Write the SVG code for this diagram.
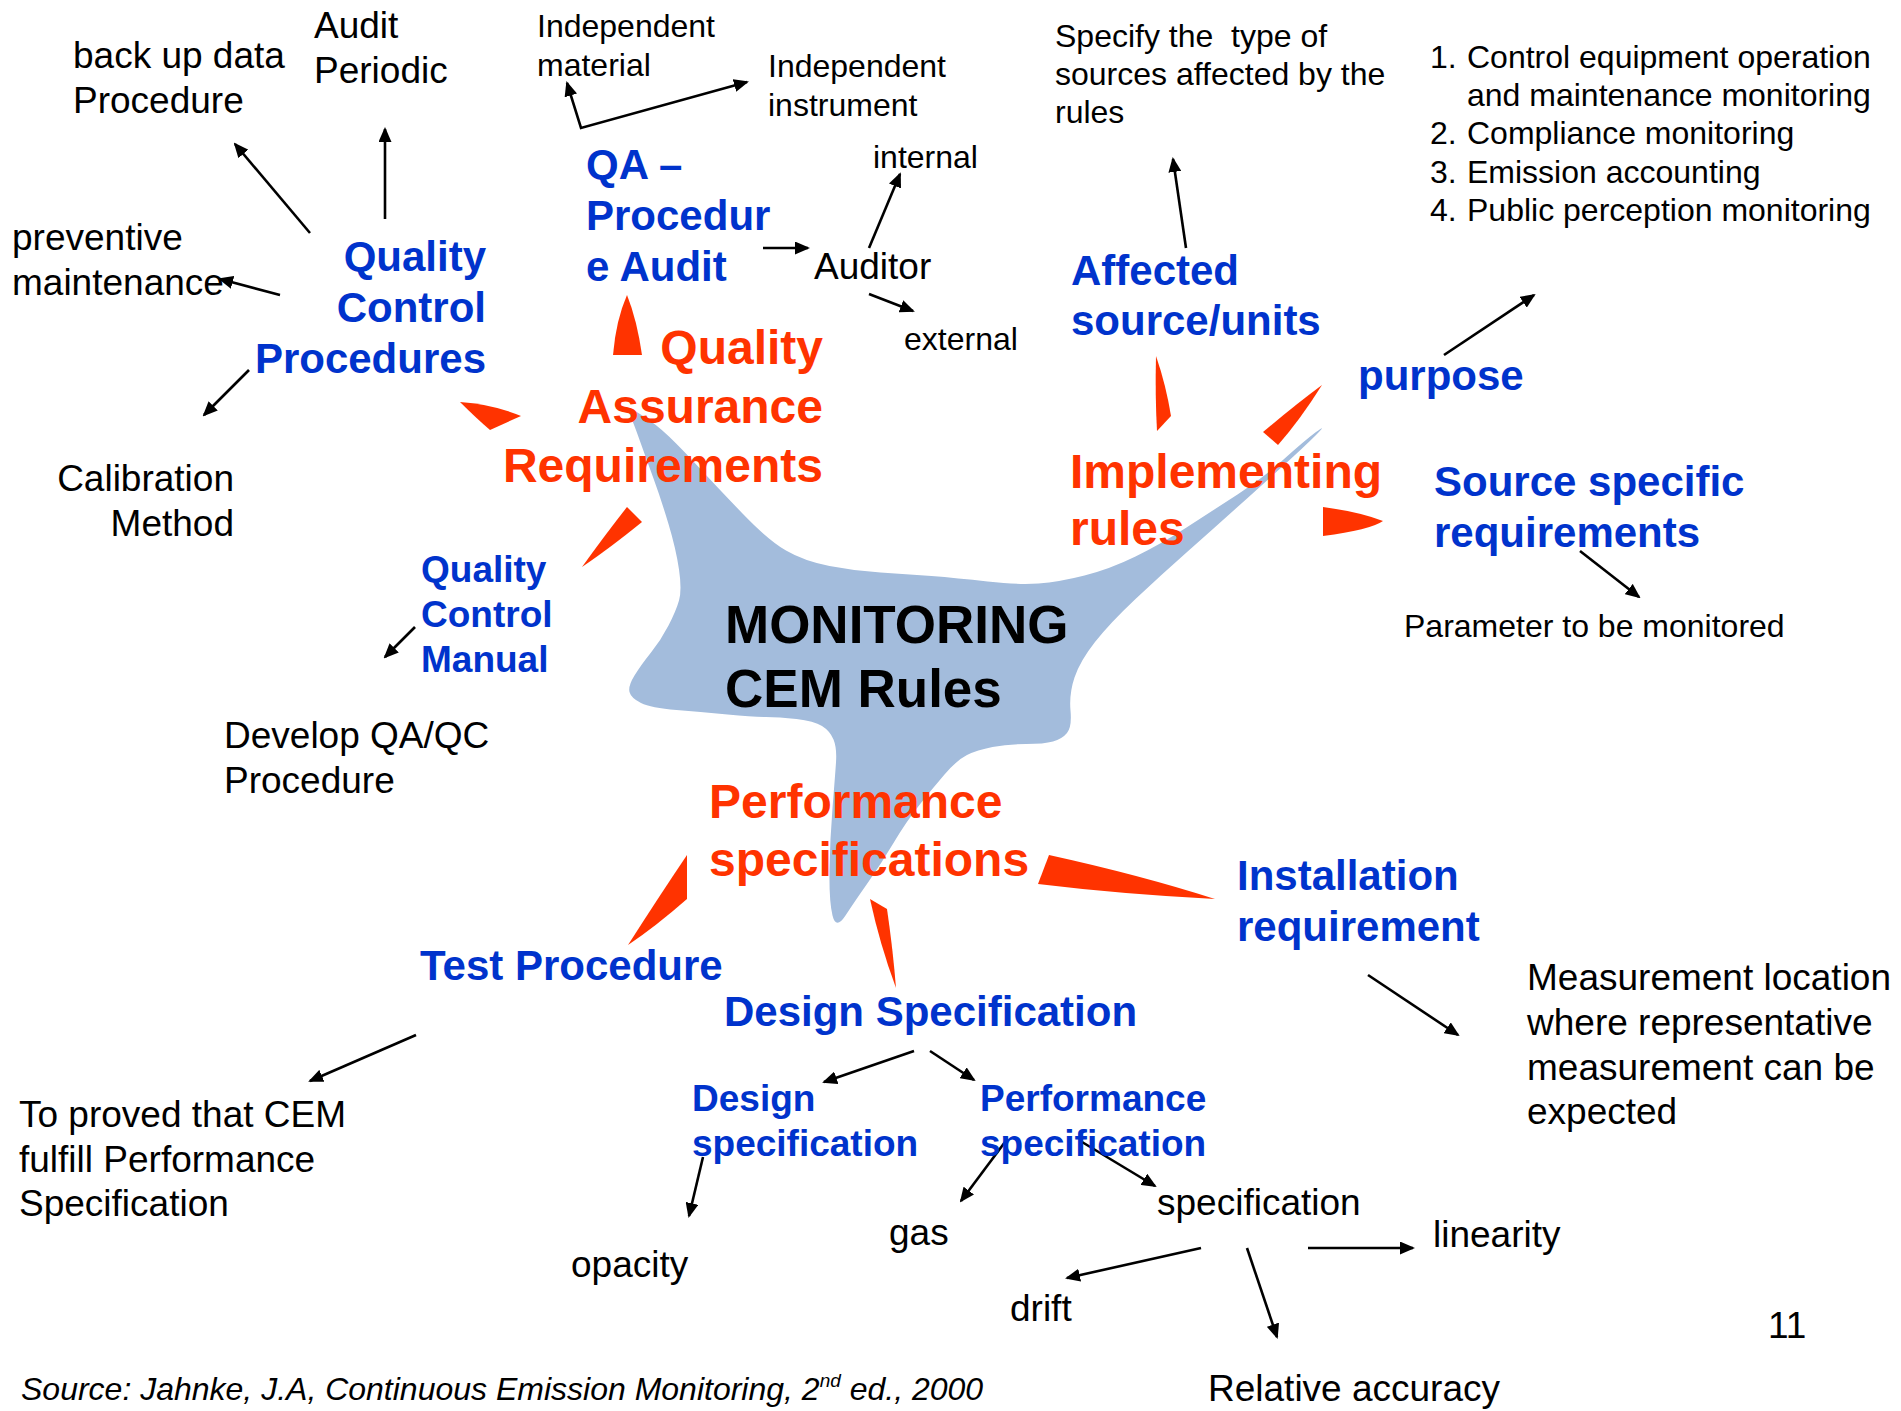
<svg xmlns="http://www.w3.org/2000/svg" width="1901" height="1411" viewBox="0 0 1901 1411">
<style>
text{font-family:"Liberation Sans",Arial,sans-serif;}
.k{font-size:37px;fill:#000;}
.ks{font-size:32px;fill:#000;}
.b{font-size:42px;font-weight:bold;fill:#0033CC;}
.bs{font-size:37px;font-weight:bold;fill:#0033CC;}
.o{font-size:48px;font-weight:bold;fill:#FF3300;}
.c{font-size:53px;font-weight:bold;fill:#000;}
.src{font-size:32px;font-style:italic;fill:#000;}
.end{text-anchor:end;}
.ln{fill:none;stroke:#000;stroke-width:2.6;marker-end:url(#ah);}
.sp{fill:#FF3300;stroke:none;}
</style>
<defs>
<marker id="ah" viewBox="0 0 15 13" refX="13" refY="6.5" markerWidth="15" markerHeight="13" orient="auto-start-reverse" markerUnits="userSpaceOnUse"><path d="M0,0 L15,6.5 L0,13 Z" fill="#000"/></marker>
</defs>
<rect width="1901" height="1411" fill="#fff"/>

<g id="center">
<path fill="#A3BCDC" d="M627.5,410 Q624,404 640,414 Q656,424 669,436.5 Q682,449 699.5,468 Q717,487 742.5,513.5 Q768,540 786,550.5 Q804,561 829.5,566 Q855,571 880.5,572.5 Q906,574 931.5,576 Q957,578 987.5,581.5 Q1018,585 1038.5,583.5 Q1059,582 1084.5,575.5 Q1110,569 1135.5,556.5 Q1161,544 1186.5,527.5 Q1212,511 1237.5,494.5 Q1263,478 1283.5,459.5 Q1304,441 1316,432 Q1328,423 1316,435 Q1304,447 1283.5,465.5 Q1263,484 1237.5,507 Q1212,530 1186.5,552.5 Q1161,575 1135.5,599 Q1110,623 1095,642 Q1080,661 1074.5,677.5 Q1069,694 1070.5,710.5 Q1072,727 1067,733 Q1062,739 1053,741.5 Q1044,744 1026,744 Q1008,744 992.5,747 Q977,750 967,755 Q957,760 944.5,774.5 Q932,789 919,805.5 Q906,822 893.5,843 Q881,864 868,882.5 Q855,901 845.5,915.5 Q836,930 832.5,915.5 Q829,901 829.5,870 Q830,839 832.5,808 Q835,777 836,762.5 Q837,748 833.5,739.5 Q830,731 822,726 Q814,721 796.5,719 Q779,717 766,717 Q753,717 727.5,714.5 Q702,712 676.5,710 Q651,708 641,703 Q631,698 629.5,692 Q628,686 634.5,675.5 Q641,665 651,652.5 Q661,640 668.5,625.5 Q676,611 679,600.5 Q682,590 679,569.5 Q676,549 668.5,524 Q661,499 653.5,478.5 Q646,458 638.5,437 Q631,416 627.5,410 Z"/>
<text class="c" x="725" y="643">MONITORING</text>
<text class="c" x="725" y="707">CEM Rules</text>
</g>

<g id="connectors">
<path class="sp" d="M460,402 Q492,404 521,416 L490,430 Q476,418 460,402 Z"/>
<path class="sp" d="M627,295 Q637,320 642,355 L613,355 Q616,320 627,295 Z"/>
<path class="sp" d="M1156,356 Q1166,385 1171,416 L1157,431 Q1155,395 1156,356 Z"/>
<path class="sp" d="M1322,385 Q1300,420 1278,445 L1263,432 Q1295,405 1322,385 Z"/>
<path class="sp" d="M1323,507 Q1360,512 1383,521 Q1370,530 1323,536 Z"/>
<path class="sp" d="M627,507 L642,522 Q610,548 582,567 Q605,535 627,507 Z"/>
<path class="sp" d="M687,855 L687,899 Q655,927 628,945 Q660,895 687,855 Z"/>
<path class="sp" d="M870,899 L887,909 Q893,950 896,988 Q880,945 870,899 Z"/>
<path class="sp" d="M1049,855 Q1140,875 1215,899 Q1120,894 1038,884 Z"/>

<line class="ln" x1="310" y1="233" x2="235" y2="144"/>
<line class="ln" x1="385" y1="219" x2="385" y2="129"/>
<line class="ln" x1="280" y1="295" x2="220" y2="279"/>
<line class="ln" x1="249" y1="370" x2="204" y2="415"/>
<polyline class="ln" points="567,83 581,128 747,82" style="marker-start:url(#ah)"/>
<line class="ln" x1="763" y1="248" x2="808" y2="248"/>
<line class="ln" x1="869" y1="248" x2="900" y2="174"/>
<line class="ln" x1="869" y1="294" x2="913" y2="311"/>
<line class="ln" x1="1186" y1="248" x2="1173" y2="159"/>
<line class="ln" x1="1444" y1="355" x2="1534" y2="295"/>
<line class="ln" x1="1580" y1="551" x2="1639" y2="597"/>
<line class="ln" x1="415" y1="627" x2="385" y2="657"/>
<line class="ln" x1="416" y1="1035" x2="310" y2="1081"/>
<line class="ln" x1="1368" y1="975" x2="1458" y2="1035"/>
<line class="ln" x1="914" y1="1051" x2="824" y2="1082"/>
<line class="ln" x1="930" y1="1051" x2="974" y2="1080"/>
<line class="ln" x1="703" y1="1157" x2="689" y2="1216"/>
<line class="ln" x1="1005" y1="1142" x2="961" y2="1201"/>
<line class="ln" x1="1082" y1="1142" x2="1155" y2="1186"/>
<line class="ln" x1="1201" y1="1248" x2="1067" y2="1278"/>
<line class="ln" x1="1247" y1="1248" x2="1277" y2="1337"/>
<line class="ln" x1="1308" y1="1248" x2="1413" y2="1248"/>
</g>

<g id="qa-requirements"><text class="o end" x="823" y="364">Quality</text><text class="o end" x="823" y="423">Assurance</text><text class="o end" x="823" y="482">Requirements</text></g>
<g id="implementing-rules"><text class="o" x="1070" y="488">Implementing</text><text class="o" x="1070" y="545">rules</text></g>
<g id="performance-specifications"><text class="o" x="709" y="818">Performance</text><text class="o" x="709" y="876">specifications</text></g>

<g id="qc-procedures"><text class="b end" x="486" y="271">Quality</text><text class="b end" x="486" y="322">Control</text><text class="b end" x="486" y="373">Procedures</text></g>
<g id="back-up-data"><text class="k" x="73" y="68">back up data</text><text class="k" x="73" y="113">Procedure</text></g>
<g id="audit-periodic"><text class="k" x="314" y="38">Audit</text><text class="k" x="314" y="83">Periodic</text></g>
<g id="preventive-maintenance"><text class="k" x="12" y="250">preventive</text><text class="k" x="12" y="295">maintenance</text></g>
<g id="calibration-method"><text class="k end" x="234" y="491">Calibration</text><text class="k end" x="234" y="536">Method</text></g>

<g id="qa-procedure-audit"><text class="b" x="586" y="179">QA –</text><text class="b" x="586" y="230">Procedur</text><text class="b" x="586" y="281">e Audit</text></g>
<g id="independent-material"><text class="ks" x="537" y="37">Independent</text><text class="ks" x="537" y="76">material</text></g>
<g id="independent-instrument"><text class="ks" x="768" y="77">Independent</text><text class="ks" x="768" y="116">instrument</text></g>
<g id="auditor"><text class="k" x="814" y="279">Auditor</text></g>
<g id="internal"><text class="ks" x="873" y="168">internal</text></g>
<g id="external"><text class="ks" x="904" y="350">external</text></g>

<g id="affected-source"><text class="b" x="1071" y="285">Affected</text><text class="b" x="1071" y="335">source/units</text></g>
<g id="specify-type"><text class="ks" x="1055" y="47" xml:space="preserve" style="white-space:pre">Specify the  type of</text><text class="ks" x="1055" y="85">sources affected by the</text><text class="ks" x="1055" y="123">rules</text></g>
<g id="purpose"><text class="b" x="1358" y="390">purpose</text></g>
<g id="purpose-list">
<text class="ks" x="1430" y="68">1.</text><text class="ks" x="1467" y="68">Control equipment operation</text>
<text class="ks" x="1467" y="106">and maintenance monitoring</text>
<text class="ks" x="1430" y="144">2.</text><text class="ks" x="1467" y="144">Compliance monitoring</text>
<text class="ks" x="1430" y="183">3.</text><text class="ks" x="1467" y="183">Emission accounting</text>
<text class="ks" x="1430" y="221">4.</text><text class="ks" x="1467" y="221">Public perception monitoring</text>
</g>
<g id="source-specific"><text class="b" x="1434" y="496">Source specific</text><text class="b" x="1434" y="547">requirements</text></g>
<g id="parameter"><text class="ks" x="1404" y="637">Parameter to be monitored</text></g>

<g id="qc-manual"><text class="bs" x="421" y="582">Quality</text><text class="bs" x="421" y="627">Control</text><text class="bs" x="421" y="672">Manual</text></g>
<g id="develop-qaqc"><text class="k" x="224" y="748">Develop QA/QC</text><text class="k" x="224" y="793">Procedure</text></g>

<g id="installation"><text class="b" x="1237" y="890">Installation</text><text class="b" x="1237" y="941">requirement</text></g>
<g id="measurement-location"><text class="k" x="1527" y="990">Measurement location</text><text class="k" x="1527" y="1035">where representative</text><text class="k" x="1527" y="1080">measurement can be</text><text class="k" x="1527" y="1124">expected</text></g>

<g id="test-procedure"><text class="b" x="420" y="980">Test Procedure</text></g>
<g id="to-proved"><text class="k" x="19" y="1127">To proved that CEM</text><text class="k" x="19" y="1172">fulfill Performance</text><text class="k" x="19" y="1216">Specification</text></g>

<g id="design-specification-main"><text class="b" x="724" y="1026">Design Specification</text></g>
<g id="design-specification"><text class="bs" x="692" y="1111">Design</text><text class="bs" x="692" y="1156">specification</text></g>
<g id="performance-specification"><text class="bs" x="980" y="1111">Performance</text><text class="bs" x="980" y="1156">specification</text></g>
<g id="opacity"><text class="k" x="571" y="1277">opacity</text></g>
<g id="gas"><text class="k" x="889" y="1245">gas</text></g>
<g id="specification"><text class="k" x="1157" y="1215">specification</text></g>
<g id="linearity"><text class="k" x="1433" y="1247">linearity</text></g>
<g id="drift"><text class="k" x="1010" y="1321">drift</text></g>
<g id="relative-accuracy"><text class="k" x="1208" y="1401">Relative accuracy</text></g>

<g id="page-number"><text class="k" x="1768" y="1338">11</text></g>
<g id="source-note"><text class="src" x="21" y="1400">Source: Jahnke, J.A, Continuous Emission Monitoring, 2<tspan dy="-13" font-size="19">nd</tspan><tspan dy="13"> ed., 2000</tspan></text></g>
</svg>
